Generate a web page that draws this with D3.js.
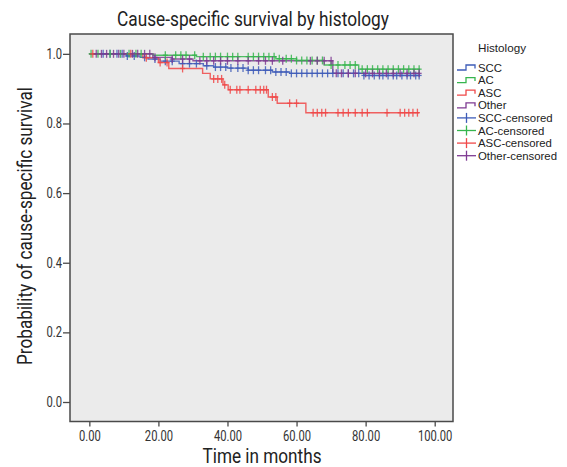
<!DOCTYPE html>
<html>
<head>
<meta charset="utf-8">
<script src="https://cdn.jsdelivr.net/npm/d3@7"></script>
<style>
  html, body { margin: 0; padding: 0; background: #ffffff; }
  svg { display: block; font-family: "Roboto", "Liberation Sans", sans-serif; }
</style>
</head>
<body>
<svg id="chart" width="567" height="467"></svg>
<script>
// Kaplan–Meier step points: [month, cumulative survival]; the last entry is the final follow-up time.
const sccSteps   = [[0,1],[10.8,0.994],[14.7,0.990],[17,0.985],[20.5,0.979],[26,0.972],[33,0.966],[36,0.962],[40,0.959],[46,0.953],[53,0.948],[58,0.944],[79.5,0.938],[95.7,0.938]];
const acSteps    = [[0,1],[18.5,0.996],[31,0.992],[54,0.986],[60,0.981],[68,0.968],[78,0.956],[95.7,0.956]];
const ascSteps   = [[0,1],[15.5,0.989],[20,0.975],[23,0.958],[32.8,0.944],[35,0.928],[38.7,0.911],[40.2,0.897],[51.8,0.876],[54.4,0.858],[62.7,0.831],[95.5,0.831]];
const otherSteps = [[0,1],[18.4,0.990],[24,0.985],[30,0.980],[70.5,0.944],[95.7,0.944]];

// Censoring times (months)
const sccCensored   = [4, 6, 8, 9.5, 11, 13, 16, 19, 22, 24, 27, 29, 31, 34, 36.5, 38, 39.5, 41, 43, 44.5, 46, 47.5, 49, 51, 52.5, 54, 55.5, 57, 58.5, 60, 61.5, 63, 64.5, 66, 67.5, 69, 70.5, 72, 73.5, 75, 76.5, 78, 79.5, 81, 82.5, 84, 85, 86.5, 88, 89, 90.5, 92, 93, 94.5, 95.5];
const acCensored    = [0.5, 2.5, 6, 9, 11.5, 13.5, 15, 22, 25, 26.5, 28, 30.5, 33, 35, 36.5, 38, 40, 41.5, 43, 46, 47.5, 49, 50.5, 52, 53.5, 55, 57, 58.5, 60, 61.5, 63, 64.5, 66, 67.5, 70, 72, 74, 75.5, 77, 79, 80.5, 82, 83.5, 85, 86.5, 88, 89.5, 91, 92.5, 94, 95.5];
const ascCensored   = [1, 12, 16.5, 20.5, 22.5, 27, 36, 37.2, 38.3, 39.2, 40.8, 42.7, 43.6, 46, 48.2, 49.5, 50.5, 51.3, 53, 54, 58, 60, 64.8, 66, 67.3, 68.4, 72, 73.5, 75, 77, 79, 80.5, 86.2, 90, 91.3, 92.5, 93.7, 95];
const otherCensored = [2, 3.5, 5, 7, 8.5, 10, 12.5, 14, 16, 17.5, 19, 24, 27, 29, 32, 34, 36, 38, 40, 43, 46, 49, 51, 53, 56, 64, 66, 68, 70, 71.5, 73, 75, 77, 80, 82, 84, 86, 88, 90, 92, 94, 95.5];

const groupNames  = ["SCC", "AC", "ASC", "Other"];
const groupColors = ["#3e5cb8", "#36b54e", "#f04848", "#7e3a92"];
const xTicks = [0, 20, 40, 60, 80, 100];
const yTicks = [0, 0.2, 0.4, 0.6, 0.8, 1.0];

const series = [
  { name: groupNames[0], color: groupColors[0], steps: sccSteps,   censored: sccCensored },
  { name: groupNames[1], color: groupColors[1], steps: acSteps,    censored: acCensored },
  { name: groupNames[2], color: groupColors[2], steps: ascSteps,   censored: ascCensored },
  { name: groupNames[3], color: groupColors[3], steps: otherSteps, censored: otherCensored }
];

// Narrow the glyphs horizontally to get a condensed face.
function condense(sel, factor) {
  sel.each(function () {
    const w = this.getComputedTextLength();
    d3.select(this).attr("textLength", w * factor).attr("lengthAdjust", "spacingAndGlyphs");
  });
}
function fitWidth(sel, width) {
  sel.attr("textLength", width).attr("lengthAdjust", "spacingAndGlyphs");
}

const svg = d3.select("#chart");
const plot = { left: 70, right: 453, top: 34, bottom: 421.5 };

const x = d3.scaleLinear().domain([-5.6, 105.3]).range([plot.left, plot.right]);
const y = d3.scaleLinear().domain([-0.056, 1.057]).range([plot.bottom, plot.top]);

// Plot background and frame
svg.append("rect")
  .attr("x", plot.left).attr("y", plot.top)
  .attr("width", plot.right - plot.left).attr("height", plot.bottom - plot.top)
  .attr("fill", "#ebebeb").attr("stroke", "#4a4a4a").attr("stroke-width", 1.5);

// Axes
const xAxis = d3.axisBottom(x).tickValues(xTicks).tickFormat(d3.format(".2f")).tickSize(5).tickSizeOuter(0);
const yAxis = d3.axisLeft(y).tickValues(yTicks).tickFormat(d3.format(".1f")).tickSize(7).tickSizeOuter(0);

const gx = svg.append("g").attr("transform", `translate(0,${plot.bottom})`).call(xAxis);
const gy = svg.append("g").attr("transform", `translate(${plot.left},0)`).call(yAxis);
[gx, gy].forEach(g => {
  g.select(".domain").remove();
  g.selectAll(".tick line").attr("stroke", "#4a4a4a").attr("stroke-width", 1.3);
  g.selectAll(".tick text").attr("fill", "#333").style("font-size", "14px")
    .style("font-family", "Roboto, 'Liberation Sans', sans-serif");
});
gx.selectAll(".tick text").attr("dy", "0.85em");
gy.selectAll(".tick text").attr("x", -8);
condense(gx.selectAll(".tick text"), 0.8);
condense(gy.selectAll(".tick text"), 0.8);

// Survival curves
const line = d3.line().x(d => x(d[0])).y(d => y(d[1])).curve(d3.curveStepAfter);
const survivalAt = (steps, t) => {
  let v = steps[0][1];
  for (const s of steps) { if (s[0] <= t) v = s[1]; }
  return v;
};

const curves = svg.append("g");
series.forEach(s => {
  curves.append("path")
    .datum(s.steps)
    .attr("d", line)
    .attr("fill", "none")
    .attr("stroke", s.color)
    .attr("stroke-width", 1.4)
    .attr("stroke-opacity", 0.85);
});

// Censoring marks (+)
const marks = svg.append("g");
series.forEach(s => {
  const g = marks.append("g").attr("stroke", s.color).attr("stroke-width", 1.3).attr("stroke-opacity", 0.85);
  s.censored.forEach(t => {
    const cx = x(t), cy = y(survivalAt(s.steps, t));
    g.append("line").attr("x1", cx).attr("x2", cx).attr("y1", cy - 4).attr("y2", cy + 4);
    g.append("line").attr("x1", cx - 2.5).attr("x2", cx + 2.5).attr("y1", cy).attr("y2", cy);
  });
});

// Titles
const title = svg.append("text")
  .attr("x", 253).attr("y", 26)
  .attr("text-anchor", "middle")
  .attr("fill", "#222")
  .style("font-size", "20px")
  .text("Cause-specific survival by histology");
fitWidth(title, 272);

const xLabel = svg.append("text")
  .attr("x", 262).attr("y", 463)
  .attr("text-anchor", "middle")
  .attr("fill", "#222")
  .style("font-size", "20px")
  .text("Time in months");
fitWidth(xLabel, 119);

const yLabel = svg.append("text")
  .attr("transform", "translate(32,226) rotate(-90)")
  .attr("text-anchor", "middle")
  .attr("fill", "#222")
  .style("font-size", "19.5px")
  .text("Probability of cause-specific survival");
fitWidth(yLabel, 278);

// Legend
const legend = svg.append("g")
  .style("font-size", "11.2px")
  .style("font-family", "'Liberation Sans', Roboto, sans-serif")
  .attr("fill", "#222");
const legendTitle = legend.append("text").attr("x", 478).attr("y", 52).text("Histology");
fitWidth(legendTitle, 48);

const legendItems = [
  ...series.map(s => ({ label: s.name, color: s.color, type: "line" })),
  ...series.map(s => ({ label: s.name + "-censored", color: s.color, type: "cross" }))
];
const legendLabels = [];
legendItems.forEach((d, i) => {
  const cy = 67.5 + i * 12.6;
  const g = legend.append("g");
  if (d.type === "line") {
    g.append("path")
      .attr("d", `M457,${cy + 2.5}H466V${cy - 2.5}H475V${cy + 1}`)
      .attr("fill", "none").attr("stroke", d.color).attr("stroke-width", 1.3);
  } else {
    g.append("line").attr("x1", 457).attr("x2", 476).attr("y1", cy).attr("y2", cy)
      .attr("stroke", d.color).attr("stroke-width", 1.3);
    g.append("line").attr("x1", 466.5).attr("x2", 466.5).attr("y1", cy - 5).attr("y2", cy + 5)
      .attr("stroke", d.color).attr("stroke-width", 1.3);
  }
  legendLabels.push(g.append("text").attr("x", 478).attr("y", cy + 4).text(d.label).node());
});
// One shared narrowing factor so the longest label spans the legend column.
const longest = d3.max(legendLabels, n => n.getComputedTextLength());
condense(d3.selectAll(legendLabels), 79 / longest);
</script>
</body>
</html>
